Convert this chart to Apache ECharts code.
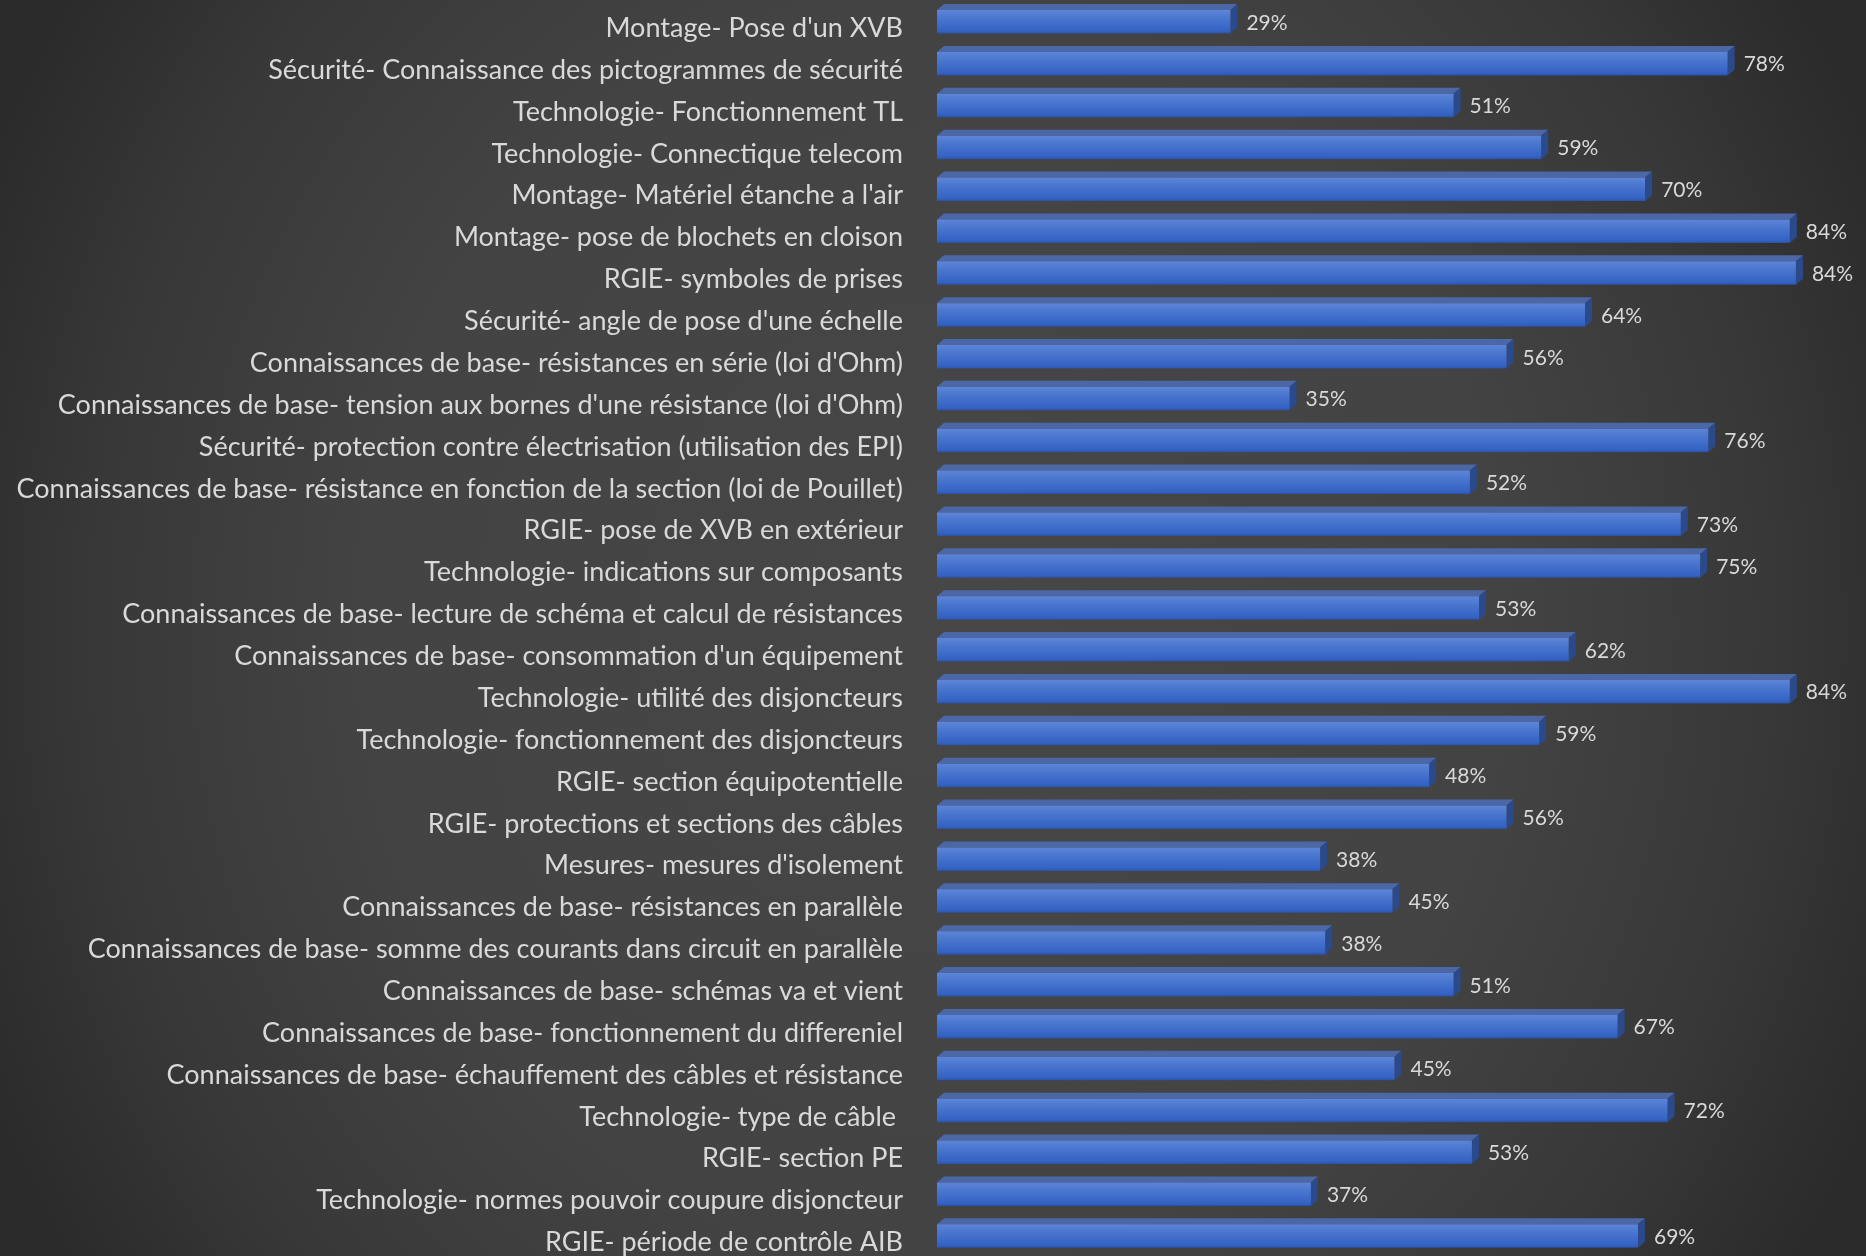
<!DOCTYPE html>
<html>
<head>
<meta charset="UTF-8">
<title>Résultats par compétence</title>
<script src="https://cdn.jsdelivr.net/npm/echarts@6/dist/echarts.min.js"></script>
<style>
  html, body { margin: 0; padding: 0; }
  body {
    background: radial-gradient(ellipse 56% 92% at 50% 50%, #474747 0%, #434343 55%, #383838 80%, #2a2a2a 100%);
  }
  #j-bar { width: 1866px; height: 1256px; }
</style>
</head>
<body>
<div id="j-bar"></div>
<script type="text/javascript">

  // libellés des questions, de haut en bas
  var categories = [
    "Montage- Pose d'un XVB",
    "Sécurité- Connaissance des pictogrammes de sécurité",
    "Technologie- Fonctionnement TL",
    "Technologie- Connectique telecom",
    "Montage- Matériel étanche a l'air",
    "Montage- pose de blochets en cloison",
    "RGIE- symboles de prises",
    "Sécurité- angle de pose d'une échelle",
    "Connaissances de base- résistances en série (loi d'Ohm)",
    "Connaissances de base- tension aux bornes d'une résistance (loi d'Ohm)",
    "Sécurité- protection contre électrisation (utilisation des EPI)",
    "Connaissances de base- résistance en fonction de la section (loi de Pouillet)",
    "RGIE- pose de XVB en extérieur",
    "Technologie- indications sur composants",
    "Connaissances de base- lecture de schéma et calcul de résistances",
    "Connaissances de base- consommation d'un équipement",
    "Technologie- utilité des disjoncteurs",
    "Technologie- fonctionnement des disjoncteurs",
    "RGIE- section équipotentielle",
    "RGIE- protections et sections des câbles",
    "Mesures- mesures d'isolement",
    "Connaissances de base- résistances en parallèle",
    "Connaissances de base- somme des courants dans circuit en parallèle",
    "Connaissances de base- schémas va et vient",
    "Connaissances de base- fonctionnement du differeniel",
    "Connaissances de base- échauffement des câbles et résistance",
    "Technologie- type de câble ",
    "RGIE- section PE",
    "Technologie- normes pouvoir coupure disjoncteur",
    "RGIE- période de contrôle AIB"
  ];

  // taux de réussite (%)
  var scores = [
    28.8, 77.6, 50.7, 59.3, 69.5, 83.7, 84.3, 63.6, 55.9, 34.6,
    75.7, 52.3, 73.0, 74.9, 53.2, 62.0, 83.7, 59.1, 48.3, 55.9,
    37.6, 44.7, 38.1, 50.7, 66.8, 44.9, 71.7, 52.5, 36.7, 68.8
  ];

  var seriesData = [];
  for (var i = 0; i < scores.length; i++) {
    seriesData.push([scores[i], i]);
  }

  var frontFill = new echarts.graphic.LinearGradient(0, 0, 0, 1, [
    { offset: 0, color: '#5d85d9' },
    { offset: 0.35, color: '#4a76cf' },
    { offset: 0.9, color: '#3362c3' },
    { offset: 1, color: '#2b52a6' }
  ]);

  // barre "3D" façon Excel : face, dessus et côté
  function renderBar(params, api) {
    var idx = api.value(1);
    var end = api.coord([api.value(0), idx]);
    var start = api.coord([0, idx]);
    var h = 23.5, dx = 7, dy = 6;
    var yTop = end[1] - 6.5 - h / 2,
        yBot = yTop + h,
        x0 = start[0],
        x1 = end[0];
    return {
      type: 'group',
      children: [
        {
          type: 'polygon',
          shape: { points: [[x0, yTop], [x0 + dx, yTop - dy], [x1 + dx, yTop - dy], [x1, yTop]] },
          style: { fill: '#4b67a6' }
        },
        {
          type: 'polygon',
          shape: { points: [[x1, yTop], [x1 + dx, yTop - dy], [x1 + dx, yBot - dy], [x1, yBot]] },
          style: { fill: '#2b4a8b' }
        },
        {
          type: 'rect',
          shape: { x: x0, y: yTop, width: x1 - x0, height: h },
          style: { fill: frontFill }
        },
        {
          type: 'text',
          style: {
            text: Math.round(api.value(0)) + '%',
            x: x1 + dx + 9,
            y: yTop + h / 2 + 1,
            verticalAlign: 'middle',
            fill: '#d9d9d9',
            font: '21px Lato'
          }
        }
      ]
    };
  }

  var myChart = echarts.init(document.getElementById('j-bar'));

  var option = {
    animation: false,
    grid: {
      left: 937,
      top: 28.3,
      width: 917,
      height: 1216
    },
    xAxis: {
      type: 'value',
      min: 0,
      max: 90,
      show: false
    },
    yAxis: {
      type: 'category',
      inverse: true,
      boundaryGap: false,
      data: categories,
      axisLine: { show: false },
      axisTick: { show: false },
      splitLine: { show: false },
      axisLabel: {
        color: '#d9d9d9',
        fontSize: 27,
        fontFamily: 'Lato',
        margin: 34
      }
    },
    series: [
      {
        type: 'custom',
        renderItem: renderBar,
        clip: false,
        encode: { x: 0, y: 1 },
        data: seriesData
      }
    ]
  };

  myChart.setOption(option);

</script>
</body>
</html>
